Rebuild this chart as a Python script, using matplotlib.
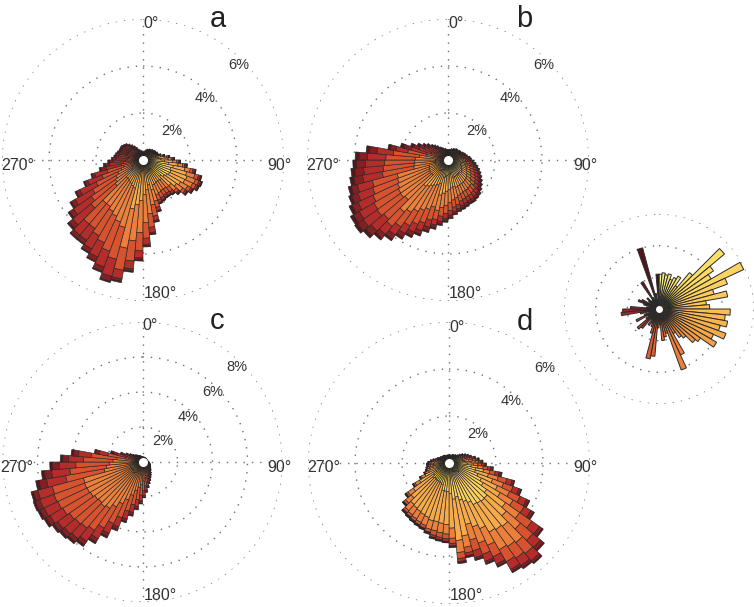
import numpy as np
import matplotlib
matplotlib.use('Agg')
import matplotlib.pyplot as plt
from matplotlib.colors import LinearSegmentedColormap

plt.rcParams['font.family'] = ['Liberation Sans', 'DejaVu Sans']

# centre of each 5 degree direction bin
dirs = np.arange(2.5, 360, 5)

# total frequency (%) per direction bin
a_len = [0.35, 0.35, 0.4, 0.45, 0.5, 0.5, 0.55, 0.55, 0.6, 0.6, 0.65, 0.65, 0.7, 0.7, 0.8, 0.95, 1.15, 1.35,
         1.6, 1.9, 2.3, 2.6, 2.7, 2.65, 2.5, 2.35, 2.1, 1.95, 1.9, 1.9, 1.95, 2.0, 2.3, 2.7, 3.2, 3.7,
         4.3, 4.8, 5.3, 5.4, 5.1, 4.8, 4.6, 4.4, 4.4, 4.2, 3.9, 3.6, 3.2, 2.7, 2.3, 1.9, 1.7, 1.5,
         1.35, 1.25, 1.2, 1.15, 1.1, 1.1, 1.1, 1.05, 1.0, 0.9, 0.8, 0.7, 0.6, 0.5, 0.45, 0.4, 0.4, 0.35]
b_len = [0.45, 0.45, 0.45, 0.5, 0.5, 0.55, 0.55, 0.6, 0.6, 0.6, 0.65, 0.65, 0.7, 0.75, 0.8, 0.85, 0.95, 1.0,
         1.1, 1.2, 1.3, 1.4, 1.5, 1.6, 1.7, 1.8, 1.9, 2.0, 2.05, 2.1, 2.1, 2.15, 2.2, 2.25, 2.35, 2.5,
         2.65, 2.8, 3.0, 3.2, 3.45, 3.65, 3.9, 4.2, 4.45, 4.7, 4.85, 4.8, 4.65, 4.5, 4.4, 4.25, 4.15, 4.05,
         3.95, 3.5, 2.6, 2.1, 1.7, 1.45, 1.25, 1.1, 0.95, 0.85, 0.75, 0.65, 0.6, 0.55, 0.5, 0.5, 0.45, 0.45]
c_len = [0.3, 0.3, 0.3, 0.3, 0.3, 0.3, 0.3, 0.3, 0.3, 0.3, 0.3, 0.3, 0.3, 0.3, 0.3, 0.32, 0.35, 0.37,
         0.4, 0.42, 0.45, 0.47, 0.5, 0.52, 0.55, 0.6, 0.65, 0.7, 0.8, 0.9, 1.0, 1.15, 1.3, 1.5, 1.75, 2.05,
         2.4, 2.75, 3.15, 3.6, 4.2, 4.8, 5.4, 5.9, 6.1, 6.2, 6.3, 6.5, 6.6, 6.65, 6.6, 6.2, 5.8, 5.3,
         4.7, 4.1, 2.8, 1.9, 1.35, 1.05, 0.85, 0.7, 0.6, 0.55, 0.5, 0.45, 0.42, 0.4, 0.37, 0.35, 0.32, 0.3]
d_len = [0.35, 0.35, 0.35, 0.35, 0.4, 0.4, 0.4, 0.45, 0.45, 0.5, 0.6, 0.7, 0.8, 0.9, 1.0, 1.15, 1.3, 1.45,
         1.6, 1.9, 2.3, 2.9, 3.3, 3.8, 4.2, 4.9, 5.3, 5.6, 5.5, 5.4, 4.9, 4.6, 4.3, 4.1, 4.3, 3.6,
         3.4, 3.35, 3.3, 3.15, 3.05, 3.0, 2.95, 2.9, 2.85, 2.6, 2.3, 1.8, 1.4, 1.15, 1.05, 1.0, 0.95, 0.95,
         0.9, 0.8, 0.7, 0.6, 0.55, 0.5, 0.45, 0.45, 0.4, 0.4, 0.4, 0.4, 0.35, 0.35, 0.35, 0.35, 0.35, 0.35]

# share of each colour class (light -> dark) in the 30 degree sectors centred on 0, 30, ..., 330
a_mix = [[0.05, 0.05, 0.05, 0.05, 0.1, 0.15, 0.25, 0.3],
         [0.1, 0.15, 0.1, 0.1, 0.1, 0.1, 0.15, 0.2],
         [0.15, 0.3, 0.15, 0.1, 0.1, 0.05, 0.05, 0.1],
         [0.15, 0.42, 0.22, 0.1, 0.05, 0.03, 0.02, 0.01],
         [0.1, 0.37, 0.27, 0.14, 0.06, 0.03, 0.02, 0.01],
         [0.05, 0.2, 0.32, 0.22, 0.12, 0.06, 0.02, 0.01],
         [0.03, 0.07, 0.3, 0.32, 0.18, 0.07, 0.02, 0.01],
         [0.02, 0.05, 0.16, 0.32, 0.26, 0.14, 0.04, 0.01],
         [0.02, 0.03, 0.1, 0.22, 0.32, 0.24, 0.05, 0.02],
         [0.02, 0.03, 0.05, 0.12, 0.27, 0.35, 0.12, 0.04],
         [0.02, 0.02, 0.04, 0.07, 0.17, 0.32, 0.28, 0.08],
         [0.02, 0.03, 0.05, 0.05, 0.1, 0.22, 0.3, 0.23]]
b_mix = [[0.05, 0.05, 0.05, 0.05, 0.1, 0.2, 0.25, 0.25],
         [0.1, 0.1, 0.1, 0.1, 0.15, 0.15, 0.15, 0.15],
         [0.2, 0.2, 0.1, 0.1, 0.1, 0.1, 0.1, 0.1],
         [0.2, 0.25, 0.12, 0.1, 0.1, 0.1, 0.08, 0.05],
         [0.15, 0.25, 0.16, 0.12, 0.12, 0.1, 0.06, 0.04],
         [0.1, 0.25, 0.2, 0.16, 0.12, 0.09, 0.05, 0.03],
         [0.05, 0.2, 0.26, 0.22, 0.13, 0.08, 0.04, 0.02],
         [0.03, 0.1, 0.2, 0.32, 0.18, 0.1, 0.05, 0.02],
         [0.02, 0.05, 0.12, 0.32, 0.25, 0.15, 0.06, 0.03],
         [0.02, 0.03, 0.08, 0.22, 0.32, 0.2, 0.09, 0.04],
         [0.02, 0.02, 0.05, 0.1, 0.26, 0.32, 0.15, 0.08],
         [0.02, 0.02, 0.04, 0.07, 0.15, 0.3, 0.25, 0.15]]
c_mix = [[0.02, 0.05, 0.05, 0.1, 0.2, 0.2, 0.2, 0.2],
         [0.05, 0.1, 0.1, 0.15, 0.2, 0.15, 0.15, 0.1],
         [0.05, 0.1, 0.1, 0.15, 0.2, 0.15, 0.15, 0.1],
         [0.05, 0.1, 0.1, 0.15, 0.2, 0.15, 0.15, 0.1],
         [0.03, 0.07, 0.1, 0.27, 0.26, 0.15, 0.08, 0.04],
         [0.02, 0.05, 0.1, 0.32, 0.26, 0.15, 0.07, 0.03],
         [0.02, 0.04, 0.1, 0.37, 0.26, 0.14, 0.05, 0.02],
         [0.02, 0.03, 0.08, 0.42, 0.26, 0.13, 0.04, 0.02],
         [0.02, 0.03, 0.06, 0.42, 0.28, 0.13, 0.04, 0.02],
         [0.02, 0.02, 0.05, 0.27, 0.36, 0.18, 0.07, 0.03],
         [0.01, 0.02, 0.04, 0.13, 0.3, 0.3, 0.12, 0.08],
         [0.01, 0.02, 0.04, 0.08, 0.2, 0.3, 0.2, 0.15]]
d_mix = [[0.05, 0.05, 0.05, 0.05, 0.1, 0.15, 0.25, 0.3],
         [0.1, 0.15, 0.1, 0.1, 0.1, 0.15, 0.15, 0.15],
         [0.2, 0.25, 0.15, 0.1, 0.1, 0.1, 0.05, 0.05],
         [0.2, 0.3, 0.15, 0.12, 0.1, 0.07, 0.04, 0.02],
         [0.1, 0.3, 0.2, 0.15, 0.13, 0.08, 0.03, 0.01],
         [0.08, 0.3, 0.25, 0.16, 0.11, 0.07, 0.02, 0.01],
         [0.06, 0.3, 0.41, 0.12, 0.06, 0.03, 0.01, 0.01],
         [0.05, 0.25, 0.51, 0.12, 0.04, 0.01, 0.01, 0.01],
         [0.05, 0.3, 0.46, 0.12, 0.04, 0.01, 0.01, 0.01],
         [0.1, 0.3, 0.3, 0.15, 0.08, 0.04, 0.02, 0.01],
         [0.1, 0.1, 0.1, 0.1, 0.1, 0.15, 0.2, 0.15],
         [0.05, 0.05, 0.05, 0.05, 0.1, 0.2, 0.25, 0.25]]

# colour key rose (right), frequency per 5 degree bin
key_len = [1.1, 1.15, 1.1, 1.15, 1.0, 1.1, 1.2, 0.9, 1.5, 2.7, 2.1, 1.9, 2.95, 2.3, 1.8, 2.2, 1.5, 1.6,
           2.25, 2.1, 2.2, 2.0, 2.25, 1.9, 2.1, 1.6, 1.5, 1.2, 1.1, 0.9, 1.6, 2.05, 0.8, 0.9, 1.0, 0.5,
           0.6, 1.5, 1.6, 0.8, 0.6, 0.5, 0.6, 0.4, 0.8, 0.9, 0.5, 0.4, 0.8, 0.5, 0.3, 0.6, 1.2, 1.15,
           0.9, 0.4, 0.3, 0.5, 0.7, 0.6, 0.3, 0.4, 0.5, 0.3, 0.35, 1.0, 0.4, 0.3, 2.0, 0.5, 0.3, 1.1]

key_colors = ['#f7f28c', '#fde26a', '#fcc85a', '#f6a445', '#ec7d3a',
              '#d9552f', '#bd312b', '#962024', '#6a1a1e', '#3a1416']
cmap = LinearSegmentedColormap.from_list('rose', key_colors)
n_cls = 8
cls_colors = [cmap((k + 0.5) / n_cls) for k in range(n_cls)]

W, H = 754, 607
fig = plt.figure(figsize=(W / 100, H / 100), dpi=100)
grid_kw = dict(ls=(0, (1, 5)), color='#6e6e6e', lw=1.0, zorder=0)
txt_c = '#333333'


def polar_ax(cx, cy, rad, rmax):
    ax = fig.add_axes([(cx - rad) / W, 1 - (cy + rad) / H, 2 * rad / W, 2 * rad / H],
                      projection='polar')
    ax.set_theta_zero_location('N')
    ax.set_theta_direction(-1)
    ax.set_axis_off()
    ax.set_ylim(0, rmax)
    return ax


def rings(ax, levels, spokes=True):
    th = np.linspace(0, 2 * np.pi, 400)
    for r in levels:
        ax.plot(th, np.full_like(th, r), **grid_kw)
    if spokes:
        for t in (0, 90, 180, 270):
            ax.plot([np.radians(t)] * 2, [0, levels[-1]], **grid_kw)


def rose_panel(cx, cy, rad, levels, lengths, mix, letter):
    rmax = levels[-1]
    ax = polar_ax(cx, cy, rad, rmax)
    rings(ax, levels)
    sec = (((dirs + 15) % 360) // 30).astype(int)
    frac = np.array(mix)[sec]
    frac = frac / frac.sum(axis=1, keepdims=True)
    seg = np.array(lengths)[:, None] * frac
    bottom = np.cumsum(seg, axis=1) - seg
    for k in range(n_cls):
        ax.bar(np.radians(dirs), seg[:, k], width=np.radians(5), bottom=bottom[:, k],
               color=cls_colors[k], edgecolor='#262626', linewidth=0.45, zorder=2)
    ax.plot(0, 0, 'o', ms=6.5, mfc='white', mec='none', zorder=5)

    px = rad / rmax  # pixels per percent
    for v in levels:
        ax.text(np.radians(45), v - 6 / px, f'{v:g}%', ha='center', va='center',
                fontsize=10.5, color=txt_c)

    def lab(dx, dy, s, ha):
        ax.text(0.5 + dx / (2 * rad), 0.5 - dy / (2 * rad), s, transform=ax.transAxes,
                ha=ha, va='center', fontsize=11.5, color=txt_c)
    lab(0, -136, '0°', 'left')
    lab(149, 5, '90°', 'right')
    lab(1, 133, '180°', 'left')
    lab(-142, 5, '270°', 'left')

    fig.text(cx / W + (75 if cx < 300 else 76) / W, 1 - (cy - 133) / H, letter,
             ha='center', va='baseline', fontsize=21, color='#222222')
    return ax


rose_panel(143, 160, 141, [2, 4, 6], a_len, a_mix, 'a')
rose_panel(448, 160, 141, [2, 4, 6], b_len, b_mix, 'b')
rose_panel(142.5, 462, 140, [2, 4, 6, 8], c_len, c_mix, 'c')
rose_panel(449, 463, 141, [2, 4, 6], d_len, d_mix, 'd')

# colour key
kax = polar_ax(659, 309, 95, 3)
rings(kax, [1, 2, 3], spokes=False)
kax.bar(np.radians(dirs), key_len, width=np.radians(5), color=cmap(dirs / 360),
        edgecolor='#2a2a2a', linewidth=0.7, zorder=2)
kax.plot(0, 0, 'o', ms=5, mfc='white', mec='none', zorder=5)

fig.savefig('out.png', dpi=100)
